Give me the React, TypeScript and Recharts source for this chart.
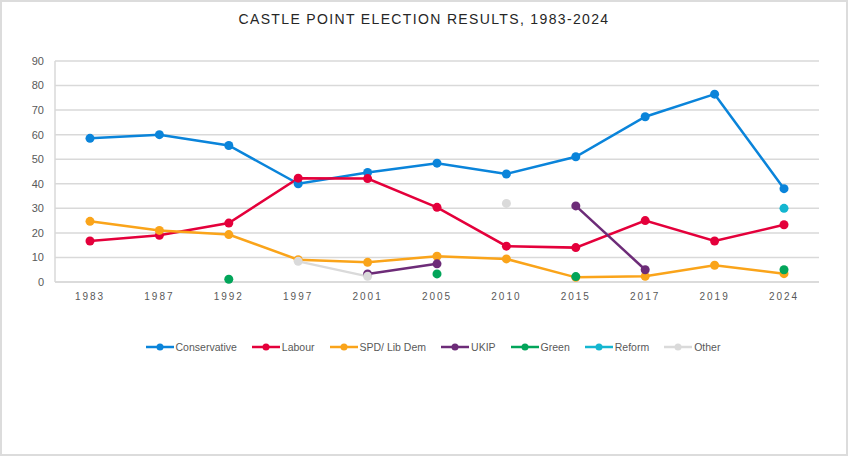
import React from "react";
import { LineChart, Line, XAxis, YAxis, CartesianGrid, Legend } from "recharts";

const years = ["1983", "1987", "1992", "1997", "2001", "2005", "2010", "2015", "2017", "2019", "2024"];
const yTicks = [0, 10, 20, 30, 40, 50, 60, 70, 80, 90];

const conservative = [58.5, 60, 55.6, 40, 44.6, 48.4, 44, 51, 67.3, 76.5, 38];
const labour = [16.7, 19, 24, 42.3, 42.1, 30.4, 14.6, 14, 25, 16.7, 23.3];
const libDem = [24.7, 21, 19.3, 9.1, 8, 10.5, 9.4, 1.9, 2.3, 6.8, 3.4];
const ukip = [null, null, null, null, 3.3, 7.4, null, 31, 5, null, null];
const green = [null, null, 1.1, null, null, 3.3, null, 2.2, null, null, 5];
const reform = [null, null, null, null, null, null, null, null, null, null, 30];
const other = [null, null, null, 8.4, 2.3, null, 32, null, null, null, null];

const series = [
  { key: "conservative", name: "Conservative", color: "#0A84DA", values: conservative },
  { key: "labour", name: "Labour", color: "#E4003B", values: labour },
  { key: "libDem", name: "SPD/ Lib Dem", color: "#FAA41A", values: libDem },
  { key: "ukip", name: "UKIP", color: "#6D2C78", values: ukip },
  { key: "green", name: "Green", color: "#02A55A", values: green },
  { key: "reform", name: "Reform", color: "#14B6D0", values: reform },
  { key: "other", name: "Other", color: "#DADADA", values: other },
];

const data = years.map((year, i) => {
  const row: Record<string, string | number | null> = { year };
  series.forEach((s) => {
    row[s.key] = s.values[i];
  });
  return row;
});

const font = "'Liberation Sans', Arial, sans-serif";

// legend keeps the series order (recharts sorts the payload by name)
function LegendContent() {
  return (
    <div style={{ display: "flex", justifyContent: "center", gap: 15, fontFamily: font, fontSize: 10.5, color: "#595959" }}>
      {series.map((s) => (
        <div key={s.key} style={{ display: "flex", alignItems: "center" }}>
          <svg width={28} height={10} style={{ marginRight: 2 }}>
            <line x1={0} y1={5} x2={28} y2={5} stroke={s.color} strokeWidth={2.5} />
            <circle cx={14} cy={5} r={3.5} fill={s.color} />
          </svg>
          <span>{s.name}</span>
        </div>
      ))}
    </div>
  );
}

export default function App() {
  return (
    <div style={{ position: "absolute", left: 0, top: 0, width: 848, height: 456, background: "#fff" }}>
      <div
        style={{
          position: "absolute",
          left: 0,
          top: 11,
          width: 848,
          textAlign: "center",
          fontFamily: font,
          fontSize: 14,
          letterSpacing: 1.35,
          color: "#262626",
        }}
      >
        CASTLE POINT ELECTION RESULTS, 1983-2024
      </div>
      <LineChart width={848} height={456} data={data} margin={{ top: 61, right: 29, left: 15, bottom: 144 }}>
        <CartesianGrid vertical={false} stroke="#d9d9d9" strokeWidth={1.5} />
        <XAxis
          dataKey="year"
          height={30}
          padding={{ left: 35, right: 35 }}
          axisLine={{ stroke: "#d9d9d9", strokeWidth: 1.5 }}
          tickLine={false}
          tickMargin={5}
          interval={0}
          tick={{ fontSize: 10, fill: "#595959", fontFamily: font, letterSpacing: 2 }}
        />
        <YAxis
          width={40}
          domain={[0, 90]}
          ticks={yTicks}
          axisLine={{ stroke: "#d9d9d9", strokeWidth: 1.5 }}
          tickLine={false}
          tickMargin={5}
          tick={{ fontSize: 11, fill: "#595959", fontFamily: font }}
        />
        <Legend
          verticalAlign="middle"
          align="center"
          content={LegendContent}
          wrapperStyle={{ top: 341, left: 9, width: 848 }}
        />
        {series.map((s) => (
          <Line
            key={s.key}
            dataKey={s.key}
            name={s.name}
            stroke={s.color}
            strokeWidth={2.5}
            dot={{ r: 4.5, fill: s.color, stroke: s.color, strokeWidth: 0 }}
            activeDot={false}
            connectNulls={false}
            isAnimationActive={false}
          />
        ))}
      </LineChart>
      <div
        style={{
          position: "absolute",
          left: 0,
          top: 0,
          width: 848,
          height: 456,
          boxSizing: "border-box",
          border: "2px solid #dcdcdc",
          pointerEvents: "none",
        }}
      />
    </div>
  );
}
